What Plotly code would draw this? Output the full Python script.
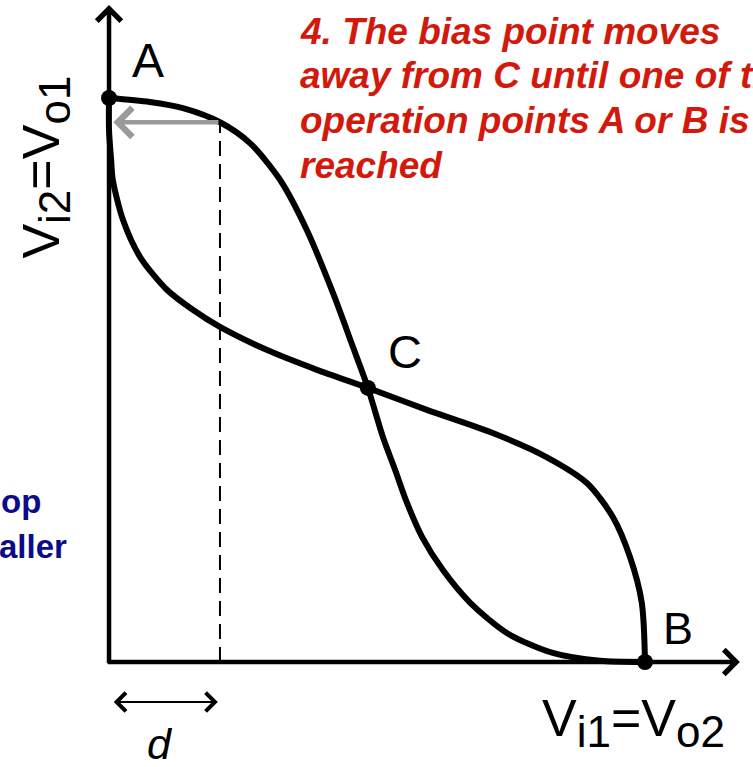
import plotly.graph_objects as go

# Normalized voltages (0..1)
curve1_x = [0.000, 0.076, 0.138, 0.207, 0.263, 0.319, 0.369, 0.418, 0.455, 0.483, 0.511, 0.534, 0.556, 0.584, 0.623, 0.674, 0.743, 0.828, 0.916, 1.000]
curve1_y = [1.000, 0.993, 0.982, 0.957, 0.920, 0.855, 0.766, 0.654, 0.559, 0.486, 0.399, 0.340, 0.282, 0.222, 0.163, 0.105, 0.051, 0.016, 0.002, 0.000]

curve2_x = [0.000, 0.000, 0.004, 0.007, 0.026, 0.058, 0.108, 0.157, 0.207, 0.295, 0.388, 0.483, 0.593, 0.716, 0.817, 0.892, 0.940, 0.972, 0.994, 1.000]
curve2_y = [1.000, 0.943, 0.890, 0.855, 0.784, 0.718, 0.660, 0.624, 0.594, 0.553, 0.518, 0.486, 0.447, 0.406, 0.363, 0.317, 0.257, 0.186, 0.105, 0.000]

points_name = ["A", "B", "C"]
points_x = [0.000, 1.000, 0.483]
points_y = [1.000, 0.000, 0.486]

d_x = 0.207          # disturbance position
d_y = 0.957          # curve 1 value there

red_lines = ["4. The bias point moves", "away from C until one of the",
             "operation points A or B is", "reached"]
blue_lines = ["op", "aller"]

FONT = "Liberation Sans, Arial, sans-serif"
RED = "#d2190b"
NAVY = "#0c0c8a"

fig = go.Figure()

for cx, cy in [(curve1_x, curve1_y), (curve2_x, curve2_y)]:
    fig.add_trace(go.Scatter(x=cx, y=cy, mode="lines",
                             line=dict(color="black", width=6, shape="spline", smoothing=0.8),
                             hoverinfo="skip", showlegend=False))

fig.add_trace(go.Scatter(x=[d_x, d_x], y=[0, d_y], mode="lines",
                         line=dict(color="black", width=2, dash="15px,8px"),
                         showlegend=False, hoverinfo="skip"))

fig.add_trace(go.Scatter(x=points_x, y=points_y, mode="markers",
                         marker=dict(color="black", size=16),
                         showlegend=False, hoverinfo="skip"))

ann = []
# axes with arrow heads
ann.append(dict(x=1.177, y=0, ax=-0.005, ay=0, xref="x", yref="y", axref="x", ayref="y",
                text="", showarrow=True, arrowhead=4, arrowsize=1.05, arrowwidth=4.5, arrowcolor="black"))
ann.append(dict(x=0, y=1.165, ax=0, ay=-0.005, xref="x", yref="y", axref="x", ayref="y",
                text="", showarrow=True, arrowhead=4, arrowsize=1.05, arrowwidth=4.5, arrowcolor="black"))
# gray arrow towards A
ann.append(dict(x=0.008, y=d_y, ax=d_x, ay=d_y, xref="x", yref="y", axref="x", ayref="y",
                text="", showarrow=True, arrowhead=4, arrowsize=1.25, arrowwidth=4.5, arrowcolor="#9a9a9a"))
# d double arrow
ann.append(dict(x=d_x - 0.004, y=-0.071, ax=0.006, ay=-0.071, xref="x", yref="y", axref="x", ayref="y",
                text="", showarrow=True, arrowside="end+start", arrowhead=4, startarrowhead=4,
                arrowsize=1.8, startarrowsize=1.8, arrowwidth=2, arrowcolor="black"))

label_pos = {"A": (0.073, 1.067, 48), "B": (1.062, 0.060, 45), "C": (0.552, 0.550, 47)}
for n in points_name:
    lx, ly, fs = label_pos[n]
    ann.append(dict(x=lx, y=ly, xref="x", yref="y", text=n, showarrow=False,
                    font=dict(family=FONT, size=fs, color="black")))

ann.append(dict(x=0.095, y=-0.146, xref="x", yref="y", text="<i>d</i>", showarrow=False,
                font=dict(family=FONT, size=43, color="black")))

SUB = "<sub><span style='font-size:44px'>{}</span></sub>"
ann.append(dict(x=0.978, y=-0.108, xref="x", yref="y",
                text="V" + SUB.format("i1") + "=V" + SUB.format("o2"),
                showarrow=False, font=dict(family=FONT, size=52, color="black")))
ann.append(dict(x=-0.118, y=0.878, xref="x", yref="y",
                text="V" + SUB.format("i2") + "=V" + SUB.format("o1"),
                showarrow=False, textangle=-90, font=dict(family=FONT, size=52, color="black")))

red_y = [1.118, 1.040, 0.960, 0.880]
for t, yy in zip(red_lines, red_y):
    ann.append(dict(x=0.353, y=yy, xref="x", yref="y", text="<b><i>" + t + "</i></b>",
                    showarrow=False, xanchor="left", yanchor="middle",
                    font=dict(family=FONT, size=37, color=RED)))

blue_pos = [(-0.123, 0.285), (-0.075, 0.205)]
for t, (bx, by) in zip(blue_lines, blue_pos):
    ann.append(dict(x=bx, y=by, xref="x", yref="y", text="<b>" + t + "</b>",
                    showarrow=False, xanchor="right", yanchor="middle",
                    font=dict(family=FONT, size=33, color=NAVY)))

fig.update_layout(
    width=753, height=767,
    margin=dict(l=0, r=0, t=0, b=0),
    paper_bgcolor="white", plot_bgcolor="white",
    xaxis=dict(range=[-0.2034, 1.2015], visible=False, fixedrange=True),
    yaxis=dict(range=[-0.1862, 1.1738], visible=False, fixedrange=True),
    annotations=ann,
    showlegend=False,
)

fig.write_html("out.html", config={"displayModeBar": False},
               post_script="document.body.style.margin='0';document.body.style.overflow='hidden';")
